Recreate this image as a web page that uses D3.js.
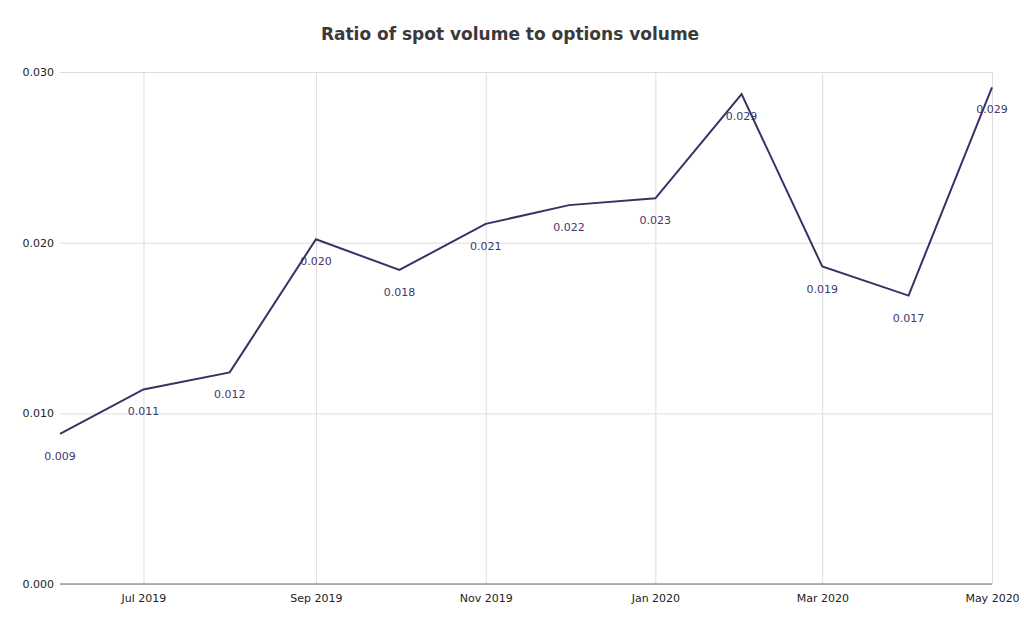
<!DOCTYPE html>
<html>
<head>
<meta charset="utf-8">
<script src="https://cdn.jsdelivr.net/npm/d3@7"></script>
<style>
body { margin: 0; background: #fff; }
text { font-family: "DejaVu Sans", Verdana, sans-serif; }
</style>
</head>
<body>
<div id="chart"></div>
<script>
var months = ["2019-06", "2019-07", "2019-08", "2019-09", "2019-10", "2019-11",
              "2019-12", "2020-01", "2020-02", "2020-03", "2020-04", "2020-05"];
var ratios = [0.0088, 0.0114, 0.0124, 0.0202, 0.0184, 0.0211,
              0.0222, 0.0226, 0.0287, 0.0186, 0.0169, 0.0291];
var yTicks = [0, 0.01, 0.02, 0.03];

var width = 1024, height = 630;
var margin = {top: 72, right: 32, bottom: 46, left: 60};

var parse = d3.timeParse("%Y-%m");
var data = months.map(function(m, i) { return {date: parse(m), value: ratios[i]}; });

var svg = d3.select("#chart").append("svg")
    .attr("width", width)
    .attr("height", height);

var x = d3.scaleTime()
    .domain(d3.extent(data, function(d) { return d.date; }))
    .range([margin.left, width - margin.right]);

var y = d3.scaleLinear()
    .domain([0, 0.03])
    .range([height - margin.bottom, margin.top]);

// title
svg.append("text")
    .attr("x", 510)
    .attr("y", 40)
    .attr("text-anchor", "middle")
    .attr("font-size", 17)
    .attr("font-weight", "bold")
    .attr("fill", "#3a3a3a")
    .text("Ratio of spot volume to options volume");

// horizontal grid + y labels
var yAxis = svg.append("g")
    .attr("transform", "translate(" + margin.left + ",0)")
    .call(d3.axisLeft(y).tickValues(yTicks).tickFormat(d3.format(".3f"))
        .tickSize(-(width - margin.left - margin.right)).tickSizeOuter(0).tickPadding(6));
yAxis.select(".domain").remove();
yAxis.selectAll(".tick line").attr("stroke", "#ddd");
yAxis.selectAll(".tick text").attr("font-size", 11).attr("fill", "#222")
    .attr("font-family", "DejaVu Sans, sans-serif");

// vertical grid + x labels
var xTicks = d3.timeMonth.every(2).range(parse("2019-07"), parse("2020-06"));
var xAxis = svg.append("g")
    .attr("transform", "translate(0," + (height - margin.bottom) + ")")
    .call(d3.axisBottom(x).tickValues(xTicks).tickFormat(d3.timeFormat("%b %Y"))
        .tickSize(-(height - margin.top - margin.bottom)).tickSizeOuter(0).tickPadding(10));
xAxis.select(".domain").remove();
xAxis.selectAll(".tick line").attr("stroke", "#ddd");
xAxis.selectAll(".tick text").attr("font-size", 11).attr("fill", "#222")
    .attr("font-family", "DejaVu Sans, sans-serif");

// baseline darker
svg.append("line")
    .attr("x1", margin.left).attr("x2", width - margin.right)
    .attr("y1", y(0)).attr("y2", y(0))
    .attr("stroke", "#999").attr("stroke-width", 1.5);

// line
var line = d3.line()
    .x(function(d) { return x(d.date); })
    .y(function(d) { return y(d.value); });

svg.append("path")
    .datum(data)
    .attr("fill", "none")
    .attr("stroke", "#3b3064")
    .attr("stroke-width", 2)
    .attr("d", line);

// value labels
svg.selectAll(".lbl")
    .data(data)
    .enter().append("text")
    .attr("class", "lbl")
    .attr("x", function(d) { return x(d.date); })
    .attr("y", function(d) { return y(d.value) + 26; })
    .attr("text-anchor", "middle")
    .attr("font-size", 11)
    .attr("fill", "#40386e")
    .text(function(d) { return d3.format(".3f")(d.value); });
</script>
</body>
</html>
